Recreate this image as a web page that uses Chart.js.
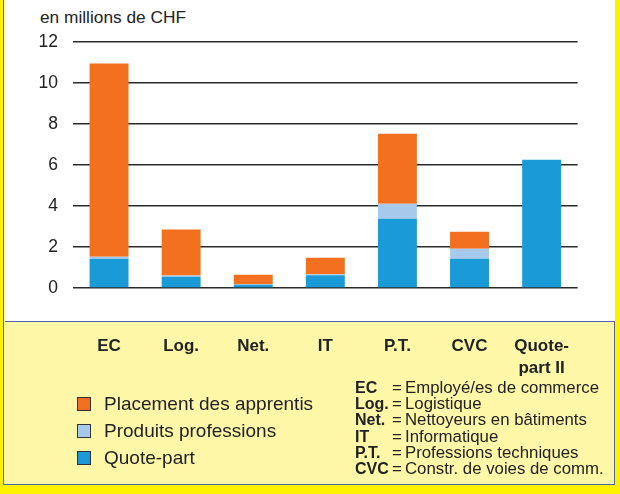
<!DOCTYPE html>
<html>
<head>
<meta charset="utf-8">
<script src="https://cdn.jsdelivr.net/npm/chart.js@4/dist/chart.umd.min.js"></script>
<style>
  html, body { margin:0; padding:0; }
  body { width:620px; height:494px; background:#FFF200; position:relative; overflow:hidden;
         font-family:"Liberation Sans", Arial, Helvetica, sans-serif; color:#222; }
  #panel { position:absolute; left:3px; top:-2px; width:610px; height:485px;
           border:1.5px solid #4f62ad; background:#FFF7A8; }
  #white { position:absolute; left:4.5px; top:0; width:610px; height:321px; background:#fff;
           border-bottom:1.5px solid #4f62ad; }
  #wrap { position:absolute; left:0; top:0; width:620px; height:380px; }
  #ytitle { position:absolute; left:40px; top:7px; font-size:17.3px; color:#222; white-space:nowrap; }
  .leg { position:absolute; left:77px; font-size:19px; white-space:nowrap; }
  .leg i { position:absolute; left:0; top:50%; width:12px; height:12px; margin-top:-7px;
           border:1px solid #333; }
  .leg span { position:absolute; left:27px; top:-11px; line-height:22px; }
  .ab { position:absolute; left:355px; font-size:16.8px; line-height:16px; white-space:nowrap; }
  .ab b { position:absolute; left:0; font-size:16px; }
  .ab em { position:absolute; left:37px; font-style:normal; }
  .ab span { position:absolute; left:50px; }
</style>
</head>
<body>
<div id="panel"></div>
<div id="white"></div>
<div id="ytitle">en millions de CHF</div>
<div id="wrap"><canvas id="c" width="620" height="380"></canvas></div>
<div id="legend"></div>
<div id="abbr"></div>
<script>
// ---- data ----
const categories = [["EC"], ["Log."], ["Net."], ["IT"], ["P.T."], ["CVC"], ["Quote-", "part II"]];
const quotePart = [1.43, 0.55, 0.16, 0.62, 3.38, 1.43, 6.26];
const produitsProfessions = [0.10, 0.06, 0.02, 0.05, 0.73, 0.49, 0];
const placementApprentis = [9.42, 2.24, 0.47, 0.81, 3.42, 0.83, 0];
const yTicks = [0, 2, 4, 6, 8, 10, 12];
const seriesNames = ["Placement des apprentis", "Produits professions", "Quote-part"];
const seriesColors = ["#F37021", "#A7C9EB", "#1A9AD6"];
const abbrKeys = ["EC", "Log.", "Net.", "IT", "P.T.", "CVC"];
const abbrTexts = ["Employé/es de commerce", "Logistique", "Nettoyeurs en bâtiments",
                   "Informatique", "Professions techniques", "Constr. de voies de comm."];

// ---- legend (HTML) ----
const legend = document.getElementById('legend');
seriesNames.forEach((name, i) => {
  const d = document.createElement('div');
  d.className = 'leg';
  d.style.top = (404 + i * 27) + 'px';
  d.innerHTML = '<i style="background:' + seriesColors[i] + '"></i><span></span>';
  d.querySelector('span').textContent = name;
  legend.appendChild(d);
});
const abbr = document.getElementById('abbr');
abbrKeys.forEach((k, i) => {
  const d = document.createElement('div');
  d.className = 'ab';
  d.style.top = (380 + i * 16.2) + 'px';
  d.innerHTML = '<b></b><em>=</em><span></span>';
  d.querySelector('b').textContent = k;
  d.querySelector('span').textContent = abbrTexts[i];
  abbr.appendChild(d);
});

// ---- chart ----
const FONT = '"Liberation Sans", Arial, Helvetica, sans-serif';
new Chart(document.getElementById('c'), {
  type: 'bar',
  data: {
    labels: categories,
    datasets: [
      { label: seriesNames[2], data: quotePart, backgroundColor: seriesColors[2] },
      { label: seriesNames[1], data: produitsProfessions, backgroundColor: seriesColors[1] },
      { label: seriesNames[0], data: placementApprentis, backgroundColor: seriesColors[0] }
    ]
  },
  options: {
    responsive: false,
    animation: false,
    events: [],
    layout: { padding: { top: 42, right: 42, left: 0, bottom: 0 } },
    plugins: { legend: { display: false }, tooltip: { enabled: false } },
    datasets: { bar: { categoryPercentage: 1, barPercentage: 0.54 } },
    scales: {
      x: {
        stacked: true,
        grid: { display: false, drawTicks: false },
        border: { display: false },
        ticks: { color: '#222', padding: 48, font: { family: FONT, size: 17, weight: 'bold', lineHeight: 1.25 } },
        afterFit: s => { s.height = 92; }
      },
      y: {
        stacked: true,
        min: 0, max: 12,
        afterBuildTicks: s => { s.ticks = yTicks.map(v => ({ value: v })); },
        grid: { color: '#2b2b2b', lineWidth: 1.4, drawTicks: false },
        border: { display: false },
        ticks: { color: '#222', padding: 15, font: { family: FONT, size: 17.5 } },
        afterFit: s => { s.width = 73; }
      }
    }
  }
});
</script>
</body>
</html>
